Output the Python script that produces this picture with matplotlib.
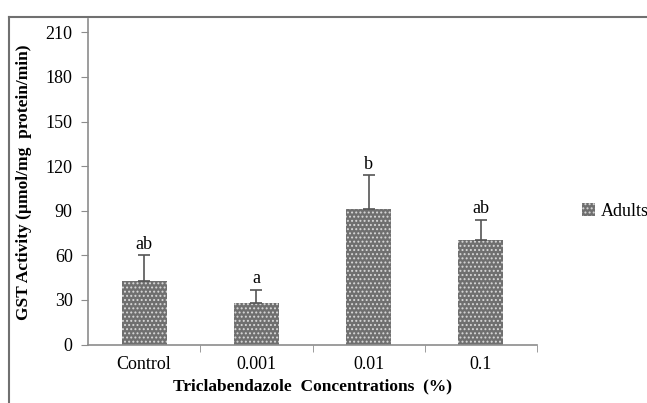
import matplotlib
matplotlib.use('Agg')
import matplotlib.pyplot as plt
from matplotlib.patches import Patch
from matplotlib.lines import Line2D
import numpy as np

categories = ['Control', '0.001', '0.01', '0.1']
gst_activity = [43, 28, 91, 70]
gst_error = [17, 9, 23, 14]
letters = ['ab', 'a', 'b', 'ab']

plt.rcParams['font.family'] = ['Liberation Serif', 'DejaVu Serif']
plt.rcParams['hatch.linewidth'] = 0.9

fig = plt.figure(figsize=(6.47, 4.03), dpi=100)
ax = fig.add_axes([0.136, 0.145, 0.694, 0.808])

axis_grey = '#8c8c8c'
bar_grey = '#6f6f6f'

x = np.arange(len(categories))
ax.bar(x, gst_activity, width=0.4, color=bar_grey, edgecolor='#d8d8d8',
       hatch='....', linewidth=0)
ax.errorbar(x, gst_activity, yerr=[np.zeros(len(x)), gst_error], fmt='none',
            ecolor='#555555', elinewidth=1.2, capsize=4, capthick=1.2)

for xi, v, e, lab in zip(x, gst_activity, gst_error, letters):
    ax.text(xi, v + e + 1.5, lab, ha='center', va='bottom', fontsize=13)

ax.set_xlim(-0.5, len(categories) - 0.5)
ax.set_ylim(0, 219)
ax.set_yticks(np.arange(0, 211, 30))
ax.set_xticks(x)
ax.set_xticklabels(categories, fontsize=13)
ax.set_xticks(np.arange(0.5, len(categories), 1), minor=True)
ax.tick_params(axis='x', which='major', length=0, pad=8)
ax.tick_params(axis='x', which='minor', length=5, color=axis_grey, direction='out')
ax.tick_params(axis='y', labelsize=13, length=5, color=axis_grey, pad=6)

for side in ['top', 'right']:
    ax.spines[side].set_visible(False)
for side in ['left', 'bottom']:
    ax.spines[side].set_color(axis_grey)
    ax.spines[side].set_linewidth(1.2)

ax.set_ylabel('GST Activity (µmol/mg  protein/min)', fontsize=12.5,
              fontweight='bold', labelpad=10)
ax.set_xlabel('Triclabendazole  Concentrations  (%)', fontsize=12.5,
              fontweight='bold', labelpad=4)

swatch = Patch(facecolor=bar_grey, edgecolor='#d8d8d8', hatch='....', linewidth=0)
fig.legend(handles=[swatch], labels=['Adults'], loc='center left',
           bbox_to_anchor=(0.9, 0.475), frameon=False, fontsize=13,
           handlelength=0.7, handleheight=0.7, handletextpad=0.3,
           borderpad=0, borderaxespad=0)

# outer frame
fig.add_artist(Line2D([0.014, 1.0], [0.958, 0.958], color='#707070', lw=1.5,
                      transform=fig.transFigure))
fig.add_artist(Line2D([0.014, 0.014], [0.0, 0.958], color='#707070', lw=1.5,
                      transform=fig.transFigure))

fig.savefig('out.png', dpi=100)
